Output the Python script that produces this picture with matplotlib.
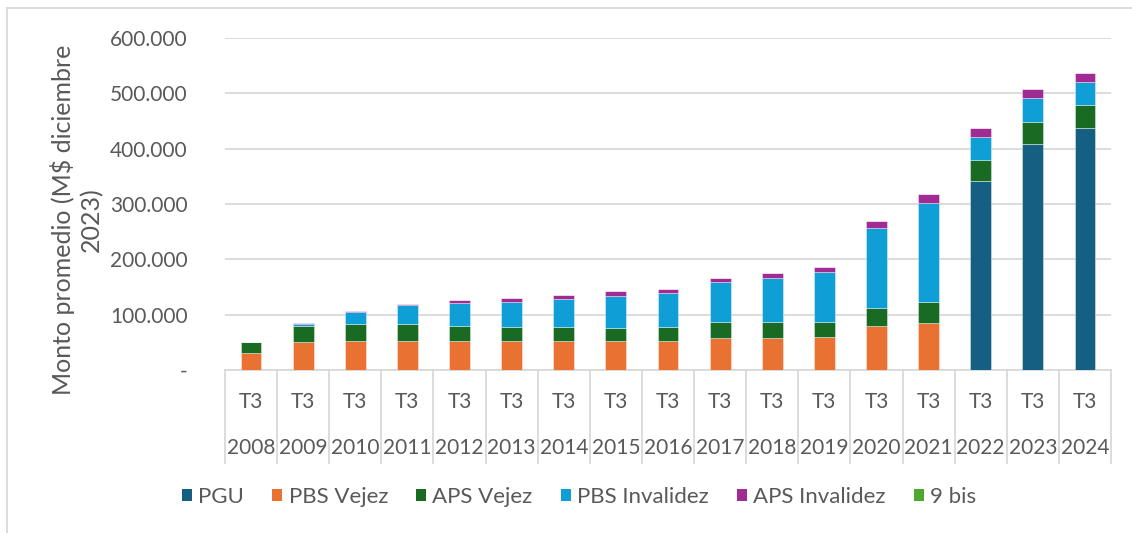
import matplotlib
matplotlib.use('Agg')
import matplotlib.pyplot as plt
from matplotlib.lines import Line2D
from matplotlib.patches import Patch
from matplotlib.ticker import FuncFormatter, MultipleLocator
from matplotlib.transforms import blended_transform_factory

# ---------------- data ----------------
years = ['2008', '2009', '2010', '2011', '2012', '2013', '2014', '2015', '2016',
         '2017', '2018', '2019', '2020', '2021', '2022', '2023', '2024']
quarter = 'T3'
series_names = ['PGU', 'PBS Vejez', 'APS Vejez', 'PBS Invalidez', 'APS Invalidez', '9 bis']
pgu = [0, 0, 0, 0, 0, 0, 0, 0, 0, 0, 0, 0, 0, 0, 341000, 408400, 437300]
pbs_vejez = [30200, 50600, 53000, 53000, 53000, 52400, 53000, 51800, 51800,
             58400, 58400, 59000, 78900, 84900, 0, 0, 0]
aps_vejez = [20400, 29500, 29600, 29600, 27100, 25900, 24000, 24200, 26000,
             27700, 27700, 27800, 32500, 38000, 38500, 39800, 41600]
pbs_invalidez = [0, 3600, 21700, 34400, 41100, 45200, 51400, 57800, 60700,
                 72300, 80300, 90400, 145800, 178900, 41600, 44000, 41000]
aps_invalidez = [0, 1800, 2400, 2300, 5400, 6700, 7800, 8200, 8500,
                 8500, 9600, 9100, 12100, 15700, 16200, 16200, 16800]
nueve_bis = [0] * 17

colors = ['#156082', '#E97132', '#196B24', '#0F9ED5', '#A02B93', '#4EA72E']
text_color = '#595959'
grid_color = '#D9D9D9'

plt.rcParams['font.family'] = ['Lato', 'DejaVu Sans']

W, H = 1132, 533
fig = plt.figure(figsize=(W / 100, H / 100), dpi=100)

ax_left, ax_right = 225 / W, 1111 / W
ax_bottom, ax_top = 1 - 370 / H, 1 - 38 / H
ax = fig.add_axes([ax_left, ax_bottom, ax_right - ax_left, ax_top - ax_bottom])

x = list(range(len(years)))
all_series = [pgu, pbs_vejez, aps_vejez, pbs_invalidez, aps_invalidez, nueve_bis]
bottom = [0] * len(years)
for vals, col in zip(all_series, colors):
    ax.bar(x, vals, bottom=bottom, width=0.4, color=col,
           edgecolor=(1, 1, 1, 0.45), linewidth=0.6, zorder=3)
    bottom = [b + v for b, v in zip(bottom, vals)]

ax.set_xlim(-0.5, len(years) - 0.5)
ax.set_ylim(0, 600000)
ax.yaxis.set_major_locator(MultipleLocator(100000))


def fmt(v, pos):
    if abs(v) < 1:
        return '-'
    return f'{int(round(v)):,}'.replace(',', '.')


ax.yaxis.set_major_formatter(FuncFormatter(fmt))
ax.grid(axis='y', color=grid_color, linewidth=1.3, zorder=0)
ax.set_axisbelow(True)
for s in ['top', 'right', 'left']:
    ax.spines[s].set_visible(False)
ax.spines['bottom'].set_color(grid_color)
ax.spines['bottom'].set_linewidth(1.3)
ax.tick_params(axis='y', length=0, pad=27, labelsize=15, labelcolor=text_color)
ax.set_xticks([])

# multi-level category axis
trans = blended_transform_factory(ax.transData, ax.transAxes)
ax_h = 332.0
sep_bottom = -(463 - 370) / ax_h
for i in range(len(years) + 1):
    ax.add_line(Line2D([i - 0.5, i - 0.5], [0, sep_bottom], transform=trans,
                       color=grid_color, linewidth=1.3, clip_on=False))
for i, yr in enumerate(years):
    ax.text(i, -(402.5 - 370) / ax_h, quarter, transform=trans, ha='center',
            va='center', fontsize=15, color=text_color)
    ax.text(i, -(447.5 - 370) / ax_h, yr, transform=trans, ha='center',
            va='center', fontsize=15, color=text_color)

# y axis title
fig.text(77 / W, 1 - 220 / H, 'Monto promedio (M$ diciembre\n2023)', rotation=90,
         ha='center', va='center', multialignment='center', fontsize=18,
         color=text_color, linespacing=1.25)

# legend
handles = [Patch(facecolor=c, edgecolor='none', label=n) for c, n in zip(colors, series_names)]
fig.legend(handles=handles, ncol=6, loc='center', bbox_to_anchor=(579 / W, 1 - 497 / H),
           frameon=False, fontsize=16, labelcolor=text_color, handlelength=0.45,
           handleheight=0.45, handletextpad=0.3, columnspacing=1.25)

# chart frame (left and top edges)
fig.add_artist(Line2D([7 / W, 7 / W], [0, 1 - 8 / H], transform=fig.transFigure,
                      color=grid_color, linewidth=1.3))
fig.add_artist(Line2D([7 / W, 1], [1 - 8 / H, 1 - 8 / H], transform=fig.transFigure,
                      color=grid_color, linewidth=1.3))

fig.savefig('out.png', dpi=100, facecolor='white')
